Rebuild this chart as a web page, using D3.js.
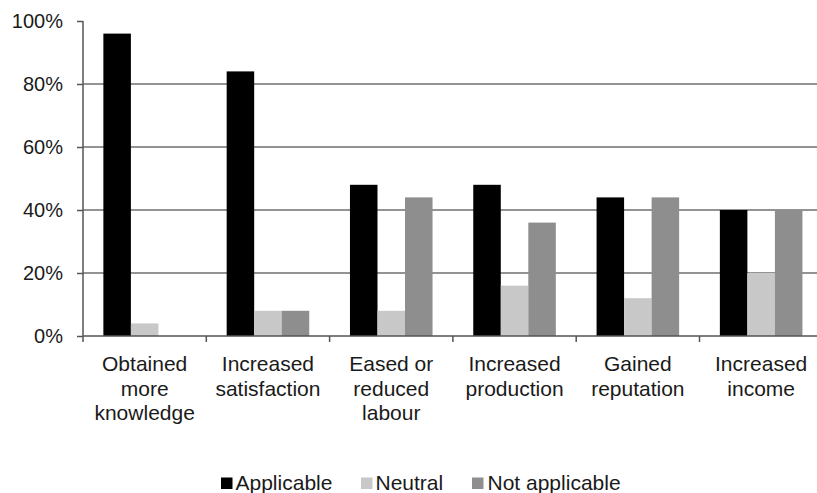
<!DOCTYPE html>
<html>
<head>
<meta charset="utf-8">
<script src="https://cdn.jsdelivr.net/npm/d3@7"></script>
<style>
  html, body { margin: 0; padding: 0; background: #fff; }
  svg { display: block; }
  text { font-family: "Liberation Sans", Arial, sans-serif; fill: #1a1a1a; }
</style>
</head>
<body>
<svg id="chart" width="817" height="493"></svg>
<script>
// Share of respondents reporting each outcome (n = 25)
const categories = [
  "Obtained\nmore\nknowledge",
  "Increased\nsatisfaction",
  "Eased or\nreduced\nlabour",
  "Increased\nproduction",
  "Gained\nreputation",
  "Increased\nincome"
];
const seriesNames = ["Applicable", "Neutral", "Not applicable"];
const applicable    = [96, 84, 48, 48, 44, 40];
const neutral       = [4, 8, 8, 16, 12, 20];
const notApplicable = [0, 8, 44, 36, 44, 40];
const yTicks = [0, 20, 40, 60, 80, 100];
const gridTicks = [20, 40, 60, 80];

const seriesValues = [applicable, neutral, notApplicable];
const colors = ["#000000", "#c8c8c8", "#8e8e8e"];

const svg = d3.select("#chart");
const plotLeft = 83, plotTop = 21, plotBottom = 336;
const step = 123.3;
const plotRight = plotLeft + step * categories.length;

const x0 = d3.scaleBand().domain(d3.range(categories.length)).range([plotLeft, plotRight]).paddingInner(0).paddingOuter(0);
const x1 = d3.scaleBand().domain(d3.range(seriesNames.length)).range([0, x0.bandwidth()]).paddingInner(0).paddingOuter(0.74);
const y = d3.scaleLinear().domain([0, 100]).range([plotBottom, plotTop]);
const color = d3.scaleOrdinal().domain(seriesNames).range(colors);

// Horizontal gridlines
svg.append("g")
  .selectAll("line")
  .data(gridTicks)
  .join("line")
  .attr("x1", plotLeft).attr("x2", plotRight)
  .attr("y1", d => y(d)).attr("y2", d => y(d))
  .attr("stroke", "#939393")
  .attr("stroke-width", 2);

// Bars
const groups = svg.append("g")
  .selectAll("g")
  .data(categories.map((c, i) => i))
  .join("g")
  .attr("transform", i => `translate(${x0(i)},0)`);

groups.selectAll("rect")
  .data(i => seriesValues.map((vals, s) => ({ s, v: vals[i] })))
  .join("rect")
  .attr("x", d => x1(d.s))
  .attr("width", x1.bandwidth())
  .attr("y", d => y(d.v))
  .attr("height", d => y(0) - y(d.v))
  .attr("fill", d => color(seriesNames[d.s]));

// Y axis
const yAxis = d3.axisLeft(y)
  .tickValues(yTicks)
  .tickFormat(d => d + "%")
  .tickSize(6)
  .tickPadding(14);
const gy = svg.append("g").attr("transform", `translate(${plotLeft},0)`).call(yAxis);
gy.select(".domain").remove();
gy.selectAll(".tick line").attr("stroke", "#555").attr("stroke-width", 1.5);
gy.selectAll(".tick text").attr("font-size", 20).attr("fill", "#1a1a1a")
  .attr("font-family", "Liberation Sans, Arial, sans-serif");
gy.append("line")
  .attr("x1", 0).attr("x2", 0)
  .attr("y1", y(100)).attr("y2", plotBottom + 6)
  .attr("stroke", "#555").attr("stroke-width", 1.5);

// X axis baseline with tick marks at group boundaries
const gx = svg.append("g");
gx.append("line")
  .attr("x1", plotLeft).attr("x2", plotRight)
  .attr("y1", plotBottom).attr("y2", plotBottom)
  .attr("stroke", "#555").attr("stroke-width", 1.5);
gx.selectAll("line.tk")
  .data(d3.range(1, categories.length + 1))
  .join("line")
  .attr("class", "tk")
  .attr("x1", i => x0(i - 1) + x0.bandwidth()).attr("x2", i => x0(i - 1) + x0.bandwidth())
  .attr("y1", plotBottom).attr("y2", plotBottom + 6)
  .attr("stroke", "#555").attr("stroke-width", 1.5);

// Category labels
const lbl = svg.append("g")
  .selectAll("text")
  .data(categories.map((c, i) => ({ c, i })))
  .join("text")
  .attr("text-anchor", "middle")
  .attr("font-size", 21)
  .attr("y", 371);
lbl.each(function (d) {
  const t = d3.select(this);
  d.c.split("\n").forEach((line, k) => {
    t.append("tspan")
      .attr("x", x0(d.i) + x0.bandwidth() / 2)
      .attr("dy", k === 0 ? 0 : 24.5)
      .text(line);
  });
});

// Legend
const legendX = [221, 361, 472];
const legend = svg.append("g")
  .selectAll("g")
  .data(seriesNames.map((n, i) => ({ n, i })))
  .join("g")
  .attr("transform", d => `translate(${legendX[d.i]},0)`);
legend.append("rect")
  .attr("x", 0).attr("y", 477.5)
  .attr("width", 11.5).attr("height", 11.5)
  .attr("fill", d => color(d.n));
legend.append("text")
  .attr("x", d => d.i === 2 ? 15.5 : 14.5)
  .attr("y", 490)
  .attr("font-size", 21)
  .text(d => d.n);
</script>
</body>
</html>
